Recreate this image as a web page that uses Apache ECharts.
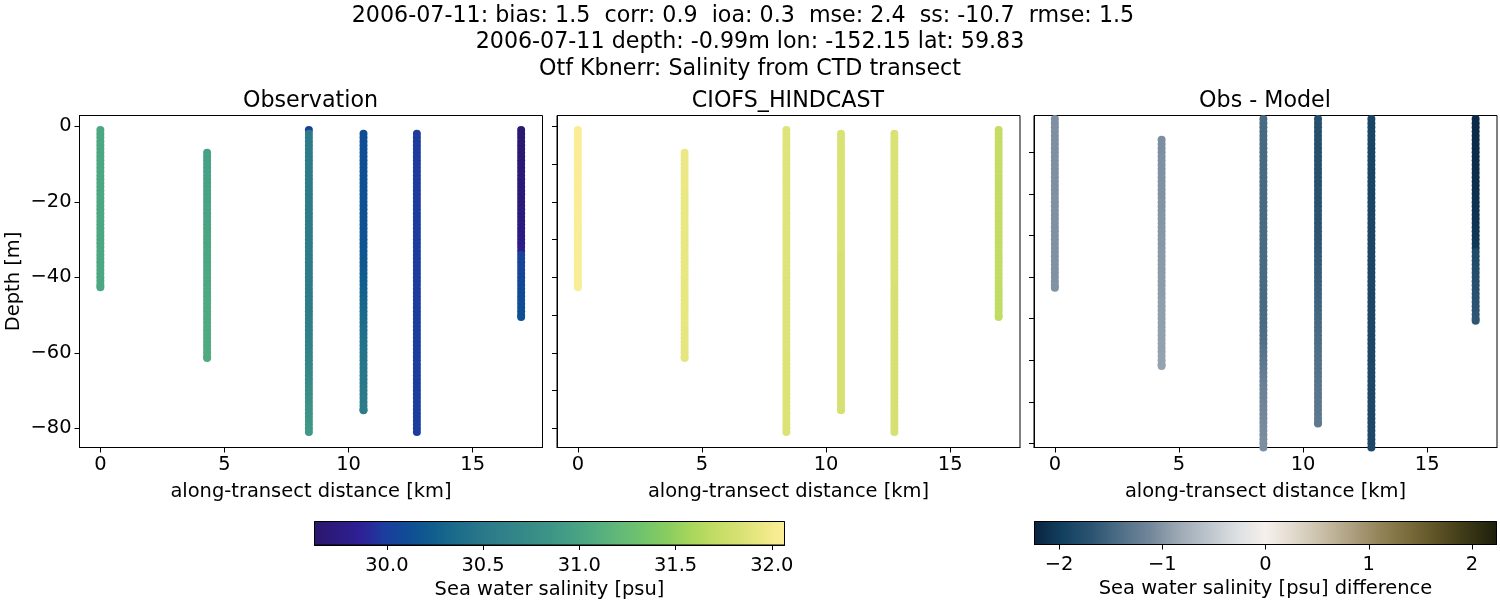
<!DOCTYPE html>
<html><head><meta charset="utf-8">
<style>html,body{margin:0;padding:0;background:#fff}#c{width:1500px;height:600px}</style>
<script src="https://cdn.jsdelivr.net/npm/echarts@6/dist/echarts.min.js"></script>
</head><body><div id="c"></div>
<script>
const titleLines = [
  "2006-07-11: bias: 1.5  corr: 0.9  ioa: 0.3  mse: 2.4  ss: -10.7  rmse: 1.5  ",
  "2006-07-11 depth: -0.99m lon: -152.15 lat: 59.83",
  "Otf Kbnerr: Salinity from CTD transect"
];
const panelTitles = ["Observation", "CIOFS_HINDCAST", "Obs - Model"];
const xName = "along-transect distance [km]";
const yName = "Depth [m]";
const cbar1Name = "Sea water salinity [psu]";
const cbar2Name = "Sea water salinity [psu] difference";

const stationKm = [0, 4.3, 8.4, 10.6, 12.75, 16.95];
const firstBin = [0, 6, 0, 1, 1, 0];
const lastDepth = [-42.6, -61.4, -81, -75.2, -81, -50.5];
const depthBins = [-1,-2,-3,-4,-5,-6,-7,-8,-9,-10,-11,-12,-13,-14,-15,-16,-17,-18,-19,-20,
  -21,-22,-23,-24,-25,-26,-27,-28,-29,-30,-31,-32,-33,-34,-35,-36,-37,-38,-39,-40,
  -41,-42,-43,-44,-45,-46,-47,-48,-49,-50,-51,-52,-53,-54,-55,-56,-57,-58,-59,-60,
  -61,-62,-63,-64,-65,-66,-67,-68,-69,-70,-71,-72,-73,-74,-75,-76,-77,-78,-79,-80,-81];

const obs0 = [31.03,31.03,31.03,31.03,31.03,31.03,31.03,31.03,31.03,31.03,
  31.03,31.03,31.03,31.03,31.03,31.03,31.03,31.03,31.03,31.03,
  31.03,31.03,31.03,31.03,31.03,31.03,31.03,31.03,31.03,31.03,
  31.03,31.03,31.03,31.03,31.03,31.03,31.03,31.03,31.03,31.03,
  31.03,31.03,31.03];
const obs1 = [30.97,30.97,30.97,30.97,30.97,30.98,30.98,30.98,30.98,30.98,
  30.99,30.99,30.99,30.99,30.99,31.0,31.0,31.0,31.0,31.0,
  31.0,31.01,31.01,31.01,31.01,31.01,31.02,31.02,31.02,31.02,
  31.02,31.03,31.03,31.03,31.03,31.03,31.04,31.04,31.04,31.04,
  31.05,31.05,31.05,31.05,31.05,31.05,31.06,31.06,31.06,31.06,
  31.06,31.06,31.06,31.06,31.06,31.06];
const obs2 = [30.02,30.55,30.55,30.55,30.55,30.55,30.55,30.55,30.55,30.55,
  30.55,30.55,30.55,30.55,30.54,30.54,30.54,30.54,30.54,30.54,
  30.54,30.54,30.54,30.54,30.54,30.54,30.54,30.54,30.54,30.54,
  30.54,30.54,30.54,30.54,30.54,30.54,30.54,30.54,30.54,30.54,
  30.54,30.54,30.54,30.54,30.55,30.55,30.55,30.56,30.56,30.57,
  30.57,30.58,30.58,30.59,30.6,30.6,30.61,30.62,30.63,30.64,
  30.65,30.66,30.67,30.68,30.69,30.7,30.72,30.73,30.75,30.76,
  30.78,30.79,30.8,30.82,30.83,30.84,30.85,30.86,30.87,30.88,30.89];
const obs3 = [30.12,30.12,30.12,30.12,30.12,30.12,30.12,30.12,30.12,30.13,
  30.13,30.13,30.13,30.13,30.13,30.13,30.14,30.14,30.14,30.14,
  30.14,30.14,30.15,30.15,30.15,30.15,30.16,30.16,30.16,30.17,
  30.17,30.18,30.18,30.19,30.19,30.2,30.21,30.22,30.23,30.24,
  30.25,30.26,30.27,30.28,30.3,30.31,30.32,30.33,30.35,30.36,
  30.37,30.38,30.39,30.4,30.41,30.42,30.43,30.44,30.45,30.46,
  30.46,30.47,30.48,30.48,30.49,30.5,30.5,30.51,30.52,30.52,
  30.53,30.53,30.54,30.54,30.55];
const obs4 = [29.98,29.98,29.98,29.98,29.98,29.98,29.98,29.98,29.98,29.98,
  29.98,29.98,29.98,29.98,29.98,29.98,29.98,29.98,29.98,29.98,
  29.99,29.99,29.99,29.99,29.99,29.99,29.99,29.99,29.99,29.99,
  29.99,29.99,29.99,29.99,29.99,29.99,29.99,29.99,29.99,29.99,
  29.99,29.99,29.99,29.99,30.0,30.0,30.0,30.0,30.0,30.0,
  30.0,30.0,30.0,30.0,30.0,30.0,30.0,30.0,30.0,30.0,
  30.0,30.0,30.0,30.0,30.0,30.0,30.0,30.0,30.0,30.0,
  30.0,30.0,30.0,30.0,30.0,30.0,30.0,30.0,30.0,30.0];
const obs5 = [29.66,29.66,29.66,29.66,29.67,29.67,29.67,29.67,29.67,29.68,
  29.68,29.68,29.68,29.69,29.69,29.69,29.7,29.7,29.7,29.71,
  29.71,29.72,29.72,29.73,29.73,29.74,29.74,29.75,29.76,29.77,
  29.78,29.79,29.8,30.02,30.03,30.04,30.05,30.05,30.06,30.07,
  30.07,30.08,30.09,30.09,30.1,30.1,30.11,30.11,30.12,30.12,30.13];

const mod0 = [32.05,32.05,32.05,32.05,32.05,32.05,32.05,32.05,32.05,32.05,
  32.05,32.05,32.05,32.05,32.05,32.05,32.05,32.05,32.05,32.05,
  32.05,32.05,32.05,32.05,32.04,32.04,32.04,32.04,32.04,32.04,
  32.04,32.04,32.04,32.04,32.04,32.04,32.04,32.04,32.04,32.04,
  32.04,32.04,32.04];
const mod1 = [31.95,31.95,31.95,31.95,31.95,31.95,31.95,31.95,31.95,31.95,
  31.94,31.94,31.94,31.94,31.94,31.94,31.94,31.94,31.94,31.94,
  31.94,31.94,31.93,31.93,31.93,31.93,31.93,31.93,31.93,31.93,
  31.93,31.93,31.93,31.93,31.92,31.92,31.92,31.92,31.92,31.92,
  31.92,31.92,31.92,31.92,31.92,31.92,31.92,31.91,31.91,31.91,
  31.91,31.91,31.91,31.91,31.91,31.91];
const mod2 = [31.87,31.87,31.87,31.87,31.87,31.87,31.87,31.87,31.87,31.87,
  31.87,31.87,31.87,31.87,31.87,31.87,31.87,31.87,31.87,31.87,
  31.87,31.87,31.87,31.87,31.87,31.87,31.87,31.87,31.87,31.87,
  31.87,31.87,31.87,31.87,31.87,31.87,31.87,31.87,31.87,31.87,
  31.86,31.86,31.86,31.86,31.86,31.86,31.86,31.86,31.86,31.86,
  31.86,31.86,31.86,31.86,31.86,31.86,31.86,31.86,31.86,31.86,
  31.85,31.85,31.85,31.85,31.85,31.85,31.85,31.85,31.85,31.85,
  31.85,31.85,31.85,31.85,31.85,31.85,31.85,31.85,31.85,31.85,31.85];
const mod3 = [31.84,31.84,31.84,31.84,31.84,31.84,31.84,31.84,31.84,31.84,
  31.84,31.84,31.84,31.84,31.84,31.84,31.84,31.84,31.84,31.84,
  31.84,31.84,31.84,31.84,31.84,31.84,31.84,31.84,31.84,31.84,
  31.84,31.84,31.83,31.83,31.83,31.83,31.83,31.83,31.83,31.83,
  31.83,31.83,31.83,31.83,31.83,31.83,31.83,31.83,31.83,31.83,
  31.83,31.83,31.83,31.83,31.83,31.83,31.83,31.83,31.83,31.83,
  31.83,31.83,31.83,31.83,31.83,31.83,31.83,31.83,31.83,31.83,
  31.83,31.83,31.83,31.83,31.83];
const mod4 = [31.84,31.84,31.84,31.84,31.84,31.84,31.84,31.84,31.84,31.84,
  31.84,31.84,31.84,31.84,31.84,31.84,31.84,31.84,31.84,31.84,
  31.84,31.84,31.84,31.84,31.84,31.84,31.84,31.84,31.84,31.84,
  31.84,31.84,31.84,31.84,31.84,31.84,31.84,31.84,31.84,31.84,
  31.83,31.83,31.83,31.83,31.83,31.83,31.83,31.83,31.83,31.83,
  31.83,31.83,31.83,31.83,31.83,31.83,31.83,31.83,31.83,31.83,
  31.83,31.83,31.83,31.83,31.83,31.83,31.83,31.83,31.83,31.83,
  31.83,31.83,31.83,31.83,31.83,31.83,31.83,31.83,31.83,31.83];
const mod5 = [31.72,31.72,31.72,31.72,31.72,31.72,31.72,31.72,31.72,31.72,
  31.72,31.72,31.72,31.72,31.71,31.71,31.71,31.71,31.71,31.71,
  31.71,31.71,31.71,31.71,31.71,31.71,31.71,31.71,31.71,31.7,
  31.7,31.7,31.7,31.7,31.7,31.7,31.7,31.7,31.7,31.7,
  31.7,31.69,31.69,31.69,31.69,31.69,31.69,31.69,31.69,31.69,31.69];

const dif0 = [-1.04,-1.04,-1.04,-1.04,-1.04,-1.04,-1.04,-1.04,-1.04,-1.04,
  -1.04,-1.04,-1.04,-1.04,-1.04,-1.04,-1.04,-1.04,-1.04,-1.04,
  -1.03,-1.03,-1.03,-1.03,-1.03,-1.03,-1.03,-1.03,-1.03,-1.03,
  -1.03,-1.03,-1.03,-1.03,-1.03,-1.03,-1.03,-1.03,-1.03,-1.03,
  -1.02,-1.02,-1.02];
const dif1 = [-1.05,-1.05,-1.05,-1.05,-1.04,-1.04,-1.04,-1.04,-1.03,-1.03,
  -1.03,-1.02,-1.02,-1.02,-1.02,-1.01,-1.01,-1.01,-1.0,-1.0,
  -1.0,-0.99,-0.99,-0.99,-0.98,-0.98,-0.98,-0.97,-0.97,-0.97,
  -0.96,-0.96,-0.96,-0.95,-0.95,-0.95,-0.94,-0.94,-0.94,-0.93,
  -0.93,-0.93,-0.92,-0.92,-0.92,-0.92,-0.91,-0.91,-0.91,-0.9,
  -0.9,-0.9,-0.89,-0.89,-0.89,-0.89];
const dif2 = [-1.45,-1.45,-1.45,-1.45,-1.45,-1.45,-1.45,-1.45,-1.45,-1.45,
  -1.45,-1.45,-1.45,-1.45,-1.45,-1.45,-1.45,-1.45,-1.45,-1.45,
  -1.45,-1.45,-1.45,-1.45,-1.45,-1.45,-1.45,-1.45,-1.45,-1.45,
  -1.45,-1.45,-1.45,-1.45,-1.45,-1.45,-1.45,-1.45,-1.45,-1.45,
  -1.45,-1.45,-1.45,-1.45,-1.45,-1.45,-1.45,-1.45,-1.44,-1.44,
  -1.44,-1.43,-1.42,-1.41,-1.4,-1.38,-1.36,-1.34,-1.32,-1.3,
  -1.28,-1.26,-1.24,-1.22,-1.21,-1.19,-1.18,-1.17,-1.16,-1.15,
  -1.14,-1.13,-1.12,-1.11,-1.1,-1.09,-1.08,-1.07,-1.06,-1.05,-1.05];
const dif3 = [-1.75,-1.75,-1.75,-1.75,-1.75,-1.75,-1.75,-1.75,-1.74,-1.74,
  -1.74,-1.74,-1.74,-1.73,-1.73,-1.73,-1.73,-1.72,-1.72,-1.72,
  -1.71,-1.71,-1.7,-1.7,-1.69,-1.69,-1.68,-1.68,-1.67,-1.66,
  -1.66,-1.65,-1.64,-1.63,-1.62,-1.61,-1.6,-1.59,-1.58,-1.57,
  -1.56,-1.55,-1.54,-1.53,-1.52,-1.51,-1.5,-1.49,-1.48,-1.47,
  -1.46,-1.45,-1.44,-1.43,-1.42,-1.41,-1.4,-1.39,-1.38,-1.37,
  -1.37,-1.36,-1.35,-1.35,-1.34,-1.33,-1.33,-1.32,-1.31,-1.31,
  -1.3,-1.3,-1.29,-1.29,-1.28];
const dif4 = [-1.88,-1.88,-1.88,-1.88,-1.88,-1.88,-1.88,-1.88,-1.88,-1.88,
  -1.88,-1.88,-1.88,-1.88,-1.88,-1.88,-1.88,-1.88,-1.88,-1.88,
  -1.87,-1.87,-1.87,-1.87,-1.87,-1.87,-1.87,-1.87,-1.87,-1.87,
  -1.87,-1.87,-1.87,-1.87,-1.87,-1.87,-1.87,-1.87,-1.87,-1.87,
  -1.86,-1.86,-1.86,-1.86,-1.86,-1.86,-1.86,-1.86,-1.86,-1.86,
  -1.86,-1.86,-1.86,-1.86,-1.86,-1.86,-1.86,-1.86,-1.86,-1.86,
  -1.85,-1.85,-1.85,-1.85,-1.85,-1.85,-1.85,-1.85,-1.85,-1.85,
  -1.85,-1.85,-1.85,-1.85,-1.85,-1.85,-1.85,-1.85,-1.85,-1.85];
const dif5 = [-2.16,-2.16,-2.16,-2.16,-2.15,-2.15,-2.15,-2.15,-2.14,-2.14,
  -2.14,-2.14,-2.13,-2.13,-2.13,-2.12,-2.12,-2.11,-2.11,-2.1,
  -2.1,-2.09,-2.09,-2.08,-2.08,-2.07,-2.07,-2.06,-2.05,-2.05,
  -2.04,-2.03,-2.02,-1.82,-1.81,-1.8,-1.79,-1.78,-1.77,-1.76,
  -1.75,-1.74,-1.73,-1.72,-1.71,-1.7,-1.69,-1.68,-1.67,-1.66,-1.65];

const obsValues = [obs0, obs1, obs2, obs3, obs4, obs5];
const modelValues = [mod0, mod1, mod2, mod3, mod4, mod5];
const diffValues = [dif0, dif1, dif2, dif3, dif4, dif5];

const salinityRange = [29.624, 32.066];
const diffRange = [-2.237, 2.237];
const halineColors = ["#2a186c","#2c1b80","#2e2096","#1c3d9f","#0f4d94","#105d8e","#1b6b8b","#28768a","#2f8189","#368a88","#3d9486","#46a085","#53ad7f","#63b977","#72c46c","#88cd60","#a8d65c","#c2dc64","#d6e172","#ebe884","#fdee99"];
const diffColors = ["#08233f","#134060","#2c5472","#4f6f87","#72869a","#9ca9b4","#bcc4cb","#dcdfe1","#f5f0ed","#e0d9cc","#c8bea6","#ad9f7f","#928256","#786a39","#5a5024","#3a3716","#1c1f0a"];

const xTicks = [0, 5, 10, 15];
const yTicksLabelled = [0, -20, -40, -60, -80];
const yTicksPanel2 = [0, -10, -20, -30, -40, -50, -60, -70, -80];
const yTicksPanel3 = [-10, -20, -30, -40, -50, -60, -70, -80];
const salinityTicks = [30, 30.5, 31, 31.5, 32];
const diffTicks = [-2, -1, 0, 1, 2];

const FONT = "DejaVu Sans";
const TICK = 19.44, LABEL = 19.44, TITLE = 22.2;
const pm = v => String(v).replace("-", "\u2212");

function rows(vals) {
  const out = [];
  vals.forEach((col, s) => col.forEach((v, i) => {
    const d = i === col.length - 1 ? lastDepth[s] : depthBins[firstBin[s] + i];
    out.push([stationKm[s], d, v]);
  }));
  return out;
}

const panels = [
  {left: 79.5, title: panelTitles[0], ymin: -85.08, ymax: 2.86, ticks: yTicksLabelled, labels: yTicksLabelled, name: yName, vals: obsValues},
  {left: 557, title: panelTitles[1], ymin: -85.08, ymax: 2.86, ticks: yTicksPanel2, labels: [], name: "", vals: modelValues},
  {left: 1034, title: panelTitles[2], ymin: -81.0, ymax: -1.15, ticks: yTicksPanel3, labels: [], name: "", vals: diffValues}
];
const grids = [], xAxes = [], yAxes = [], series = [], titles = [];
titleLines.forEach((t, i) => titles.push({text: t, left: 750, top: [5, 31.5, 58][i], textAlign: "center",
  textStyle: {fontFamily: FONT, fontSize: TITLE, fontWeight: "normal", color: "#000"}, padding: 0}));

const line = {show: true, onZero: false, lineStyle: {color: "#000", width: 1}};
const tick = {length: 5, lineStyle: {color: "#000", width: 1}};
panels.forEach((p, i) => {
  grids.push({left: p.left, top: 115.5, width: 463, height: 332, show: true, borderColor: "#000", borderWidth: 1, backgroundColor: "#fff", containLabel: false, outerBoundsMode: "none"});
  xAxes.push({type: "value", gridIndex: i, min: -0.84, max: 17.81, name: xName, nameLocation: "middle", nameGap: 35,
    nameTextStyle: {fontFamily: FONT, fontSize: LABEL, color: "#000"},
    axisLine: line, splitLine: {show: false},
    axisTick: Object.assign({customValues: xTicks}, tick),
    axisLabel: {customValues: xTicks, margin: 8, fontFamily: FONT, fontSize: TICK, color: "#000", formatter: pm}});
  yAxes.push({type: "value", gridIndex: i, min: p.ymin, max: p.ymax, name: p.name, nameLocation: "middle", nameGap: 56, nameRotate: 90,
    nameTextStyle: {fontFamily: FONT, fontSize: LABEL, color: "#000"},
    axisLine: line, splitLine: {show: false},
    axisTick: Object.assign({customValues: p.ticks}, tick),
    axisLabel: {show: p.labels.length > 0, customValues: p.labels, margin: 8, padding: [6, 0, 0, 0], fontFamily: FONT, fontSize: TICK, color: "#000", formatter: pm}});
  titles.push({text: p.title, left: p.left + 231, top: 90.5, textAlign: "center", padding: 0,
    textStyle: {fontFamily: FONT, fontSize: TITLE, fontWeight: "normal", color: "#000"}});
  series.push({type: "scatter", name: p.title, xAxisIndex: i, yAxisIndex: i, symbol: "circle", symbolSize: 8,
    data: rows(p.vals), animation: false, silent: true, clip: true, large: false, progressive: 0,
    itemStyle: {opacity: 1}});
});

function colorbar(idx, left, width, height, range, colors, ticks, name, fmt) {
  grids.push({left: left, top: 521.5, width: width, height: height, show: true, borderColor: "#000", borderWidth: 1, containLabel: false, outerBoundsMode: "none"});
  xAxes.push({type: "value", gridIndex: idx, min: range[0], max: range[1], name: name, nameLocation: "middle", nameGap: 35,
    nameTextStyle: {fontFamily: FONT, fontSize: LABEL, color: "#000"},
    axisLine: line, splitLine: {show: false},
    axisTick: Object.assign({customValues: ticks}, tick),
    axisLabel: {customValues: ticks, margin: 11, fontFamily: FONT, fontSize: TICK, color: "#000", formatter: fmt}});
  yAxes.push({type: "value", gridIndex: idx, min: 0, max: 1, show: false});
  series.push({type: "custom", xAxisIndex: idx, yAxisIndex: idx, silent: true, animation: false, z: 1,
    data: [[range[0], range[1]]],
    encode: {x: [0, 1]},
    renderItem: (params, api) => {
      const a = api.coord([api.value(0), 1]), b = api.coord([api.value(1), 0]);
      return {type: "rect", shape: {x: a[0], y: a[1], width: b[0] - a[0], height: b[1] - a[1]},
        style: {stroke: "#000", lineWidth: 1, fill: new echarts.graphic.LinearGradient(0, 0, 1, 0,
          colors.map((c, k) => ({offset: k / (colors.length - 1), color: c})))}};
    }});
}
colorbar(3, 314.5, 470, 23.5, salinityRange, halineColors, salinityTicks, cbar1Name, v => Number(v).toFixed(1));
colorbar(4, 1034.5, 462, 23, diffRange, diffColors, diffTicks, cbar2Name, pm);

const chart = echarts.init(document.getElementById("c"), null, {renderer: "canvas", width: 1500, height: 600});
chart.setOption({
  animation: false, backgroundColor: "#fff",
  title: titles, grid: grids, xAxis: xAxes, yAxis: yAxes, series: series,
  visualMap: [
    {type: "continuous", show: false, seriesIndex: [0, 1], dimension: 2, min: salinityRange[0], max: salinityRange[1], inRange: {color: halineColors}},
    {type: "continuous", show: false, seriesIndex: [2], dimension: 2, min: diffRange[0], max: diffRange[1], inRange: {color: diffColors}}
  ]
});
</script></body></html>
